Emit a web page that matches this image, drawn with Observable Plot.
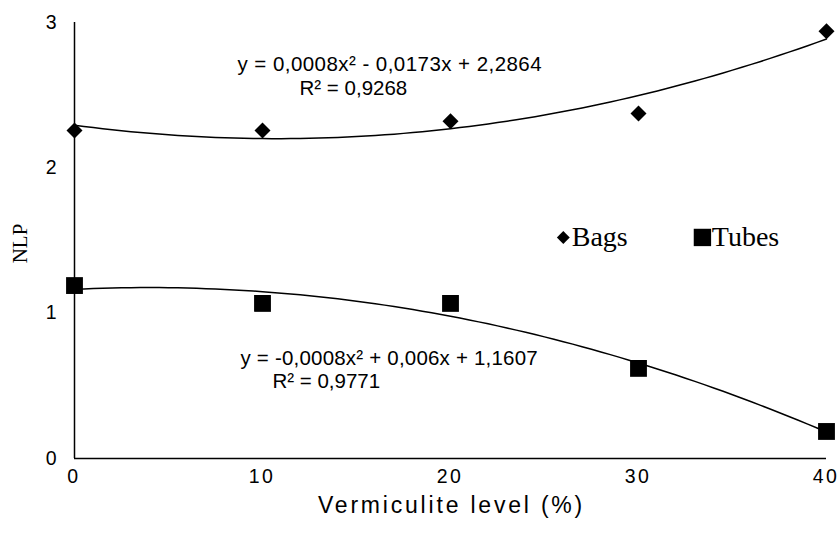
<!DOCTYPE html>
<html><head><meta charset="utf-8">
<script src="https://cdn.jsdelivr.net/npm/d3@7"></script>
<script src="https://cdn.jsdelivr.net/npm/@observablehq/plot@0.6"></script>
<style>
html,body{margin:0;padding:0;background:#fff;}
#chart svg{display:block;}
</style>
</head><body><div id="chart"></div>
<script>
const levels = [0, 10, 20, 30, 40];
const bags = [2.257, 2.257, 2.32, 2.374, 2.94];
const tubes = [1.19, 1.067, 1.067, 0.62, 0.186];
const xTicks = [0, 10, 20, 30, 40];
const yTicks = [0, 1, 2, 3];
const bagsEq = ["y = 0,0008x\u00B2 - 0,0173x + 2,2864", "R\u00B2 = 0,9268"];
const tubesEq = ["y = -0,0008x\u00B2 + 0,006x + 1,1607", "R\u00B2 = 0,9771"];
const xTitle = "Vermiculite level (%)";
const yTitle = "NLP";

// quadratic least-squares fit from the points
function quadFit(xs, ys) {
  const n = xs.length;
  let s = [0,0,0,0,0], t = [0,0,0];
  for (let i = 0; i < n; i++) {
    const x = xs[i], y = ys[i];
    for (let k = 0; k <= 4; k++) s[k] += x ** k;
    for (let k = 0; k <= 2; k++) t[k] += y * x ** k;
  }
  const M = [[s[0],s[1],s[2],t[0]],[s[1],s[2],s[3],t[1]],[s[2],s[3],s[4],t[2]]];
  for (let i = 0; i < 3; i++) {
    for (let j = i + 1; j < 3; j++) {
      const f = M[j][i] / M[i][i];
      for (let k = i; k < 4; k++) M[j][k] -= f * M[i][k];
    }
  }
  const c = [0,0,0];
  for (let i = 2; i >= 0; i--) {
    let v = M[i][3];
    for (let k = i + 1; k < 3; k++) v -= M[i][k] * c[k];
    c[i] = v / M[i][i];
  }
  return x => c[0] + c[1] * x + c[2] * x * x;
}
const fb = quadFit(levels, bags), ft = quadFit(levels, tubes);
const xs = d3.range(0, 40.01, 0.5);
const bagCurve = xs.map(x => ({x, y: fb(x)}));
const tubeCurve = xs.map(x => ({x, y: ft(x)}));
const bagPts = levels.map((x, i) => ({x, y: bags[i]}));
const tubePts = levels.map((x, i) => ({x, y: tubes[i]}));

const sans = "'Liberation Sans', Arial, sans-serif";
const serif = "'Liberation Serif', 'Times New Roman', serif";

const chart = Plot.plot({
  width: 838, height: 535,
  marginLeft: 74, marginRight: 12, marginTop: 22, marginBottom: 77,
  style: {fontFamily: sans, fontSize: "19px", color: "#000", background: "#fff"},
  x: {domain: [0, 40], label: null},
  y: {domain: [0, 3], label: null},
  marks: [
    Plot.axisX({ticks: xTicks, tickSize: 0, tickPadding: 11, fontSize: 19, dx: -0.5, tickFormat: d3.format("d"), label: null}),
    Plot.axisY({ticks: yTicks, tickSize: 0, tickPadding: 18, fontSize: 19, tickFormat: d3.format("d"), label: null}),
    Plot.ruleX([0], {stroke: "#000", strokeWidth: 1.5}),
    Plot.ruleY([0], {stroke: "#000", strokeWidth: 1.5}),
    Plot.line(bagCurve, {x: "x", y: "y", stroke: "#000", strokeWidth: 1.5}),
    Plot.line(tubeCurve, {x: "x", y: "y", stroke: "#000", strokeWidth: 1.5}),
    Plot.dot(bagPts, {x: "x", y: "y", symbol: "diamond2", r: 7.2, fill: "#000", stroke: "none"}),
    Plot.dot(tubePts, {x: "x", y: "y", symbol: "square", r: 9.5, fill: "#000", stroke: "none"}),
    Plot.text([bagsEq[0]], {x: 8.67, y: 2.71, text: d => d, textAnchor: "start", fontSize: 20.5}),
    Plot.text([bagsEq[1]], {x: 11.97, y: 2.546, text: d => d, textAnchor: "start", fontSize: 20.5}),
    Plot.text([tubesEq[0]], {x: 8.83, y: 0.688, text: d => d, textAnchor: "start", fontSize: 20.5}),
    Plot.text([tubesEq[1]], {x: 10.53, y: 0.53, text: d => d, textAnchor: "start", fontSize: 20.5}),
    // legend
    Plot.dot([0], {x: 26.0, y: 1.521, symbol: "diamond2", r: 5.8, fill: "#000", stroke: "none"}),
    Plot.text(["Bags"], {x: 26.45, y: 1.521, text: d => d, textAnchor: "start", fontFamily: serif, fontSize: 28}),
    Plot.dot([0], {x: 33.4, y: 1.521, symbol: "square", r: 9.8, fill: "#000", stroke: "none"}),
    Plot.text(["Tubes"], {x: 33.9, y: 1.521, text: d => d, textAnchor: "start", fontFamily: serif, fontSize: 28}),
    // axis titles
    Plot.text([xTitle], {frameAnchor: "bottom", dy: 54, dx: 1, text: d => d, fontSize: 23}),
    Plot.text([yTitle], {frameAnchor: "left", textAnchor: "middle", dx: -54, dy: 3, rotate: -90, text: d => d, fontFamily: serif, fontSize: 21})
  ]
});
const sel = d3.select(chart);
const byText = (s) => sel.selectAll("text").filter(function () { return this.textContent === s; });
sel.selectAll('g[aria-label="x-axis tick label"] text').style("letter-spacing", "2.5px").style("font-size", "19.5px");
sel.selectAll('g[aria-label="y-axis tick label"] text').style("font-size", "19.5px");
byText(bagsEq[0]).style("letter-spacing", "0.45px");
byText(tubesEq[0]).style("letter-spacing", "0.2px");
byText(xTitle).style("letter-spacing", "2.8px");
document.getElementById("chart").appendChild(chart);
</script>
</body></html>
